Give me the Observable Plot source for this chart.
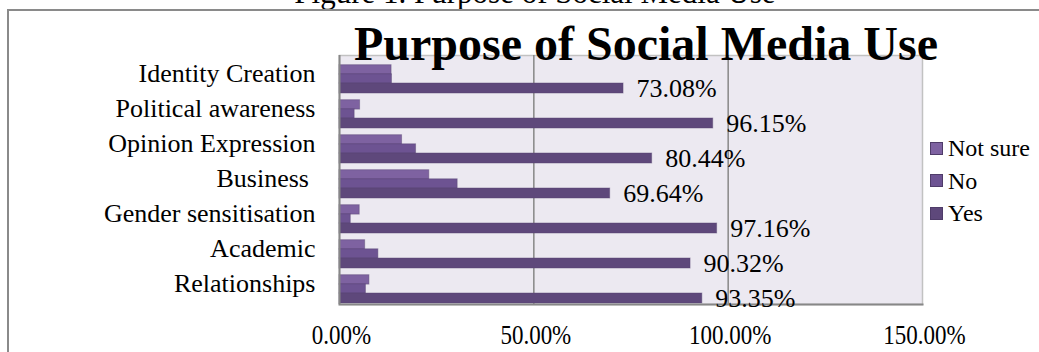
<!DOCTYPE html>
<html><head><meta charset="utf-8">
<script src="https://cdn.jsdelivr.net/npm/d3@7"></script>
<script src="https://cdn.jsdelivr.net/npm/@observablehq/plot@0.6"></script>
<style>
html,body{margin:0;padding:0;}
body{width:1039px;height:352px;overflow:hidden;position:relative;background:#fff;font-family:"Liberation Serif","Times New Roman",serif;color:#000;}
#caption{position:absolute;left:0;width:1070px;text-align:center;top:-23px;font-size:31px;line-height:31px;white-space:nowrap;}
#frame{position:absolute;left:7px;top:9px;width:1100px;height:400px;border:2px solid #8a8a8a;}
#chart{position:absolute;left:0;top:0;}
#title{position:absolute;left:346px;width:600px;text-align:center;top:16px;font-size:48px;line-height:56px;font-weight:bold;white-space:nowrap;}
#legend{position:absolute;left:930px;top:132px;font-size:24px;line-height:32.5px;}
#legend .row{display:flex;align-items:center;white-space:nowrap;}
#legend .sw{width:13px;height:13px;border:1px solid #4f3c69;margin-right:5px;box-sizing:border-box;}
svg text{white-space:pre;}
</style>
</head><body>
<div id="caption">Figure 1. Purpose of Social Media Use</div>
<div id="frame"></div>
<div id="chart"></div>
<div id="title">Purpose of Social Media Use</div>
<div id="legend"></div>
<script>
const categories = ["Identity Creation","Political awareness","Opinion Expression","Business ","Gender sensitisation","Academic","Relationships"];
const yesValues = [73.08, 96.15, 80.44, 69.64, 97.16, 90.32, 93.35];
const noValues = [13.5, 3.9, 19.7, 30.4, 2.9, 10.0, 6.8];
const notSureValues = [13.4, 5.3, 16.1, 23.1, 5.2, 6.6, 7.7];
const seriesNames = ["Not sure", "No", "Yes"];
const seriesColors = ["#7E62A1", "#6D5392", "#5E487B"];
const xTicks = [0, 50, 100, 150];

const seriesValues = [notSureValues, noValues, yesValues];
const rows = seriesNames.map((s, k) => categories.map((c, i) => ({cat: c, series: s, v: seriesValues[k][i]})));
const insets = [[7.7, 17.9], [16.8, 9.0], [26.0, -1.0]];

const chart = Plot.plot({
  width: 1039, height: 352,
  marginLeft: 339, marginRight: 117, marginTop: 55, marginBottom: 48,
  style: {background: "transparent", fontFamily: "Liberation Serif, Times New Roman, serif", color: "#000", overflow: "visible"},
  x: {domain: [0, 150], label: null},
  y: {domain: categories, padding: 0, label: null},
  marks: [
    Plot.frame({fill: "#ECE9F1", stroke: "#c2c2c2", strokeWidth: 1.5}),
    Plot.ruleX([50, 100], {stroke: "#878787", strokeWidth: 1.5}),
    ...rows.map((r, k) => Plot.barX(r, {
      x: "v", y: "cat", fill: seriesColors[k], stroke: "#574472", strokeOpacity: 0.45, strokeWidth: 1,
      insetTop: insets[k][0], insetBottom: insets[k][1]
    })),
    Plot.ruleX([0], {stroke: "#878787", strokeWidth: 2}),
    Plot.frame({anchor: "bottom", stroke: "#878787", strokeWidth: 2}),
    Plot.text(rows[2], {x: "v", y: "cat", text: d => d.v.toFixed(2) + "%", dx: 13, dy: 14, textAnchor: "start", fontSize: 26, fill: "#000"}),
    Plot.axisX({ticks: xTicks, tickFormat: d => d.toFixed(2) + "%", tickSize: 0, tickPadding: 20, fontSize: 23, dx: 2, label: null}),
    Plot.axisY({tickSize: 0, tickPadding: 24, fontSize: 26, dy: -1, label: null})
  ]
});
document.getElementById("chart").appendChild(chart);
d3.select(chart).selectAll('[aria-label="x-axis tick label"] text').each(function() {
  const t = this.getAttribute("transform");
  if (t && t.includes("translate")) {
    this.setAttribute("transform", t + " scale(1,1.18)");
  } else {
    const x = this.getAttribute("x") || 0, y = this.getAttribute("y") || 0;
    this.removeAttribute("x"); this.removeAttribute("y");
    this.setAttribute("transform", `translate(${x},${y}) scale(1,1.18)`);
  }
});

const legend = d3.select("#legend");
seriesNames.forEach((s, k) => {
  const row = legend.append("div").attr("class", "row");
  row.append("div").attr("class", "sw").style("background", seriesColors[k]);
  row.append("span").text(s);
});
</script>
</body></html>
